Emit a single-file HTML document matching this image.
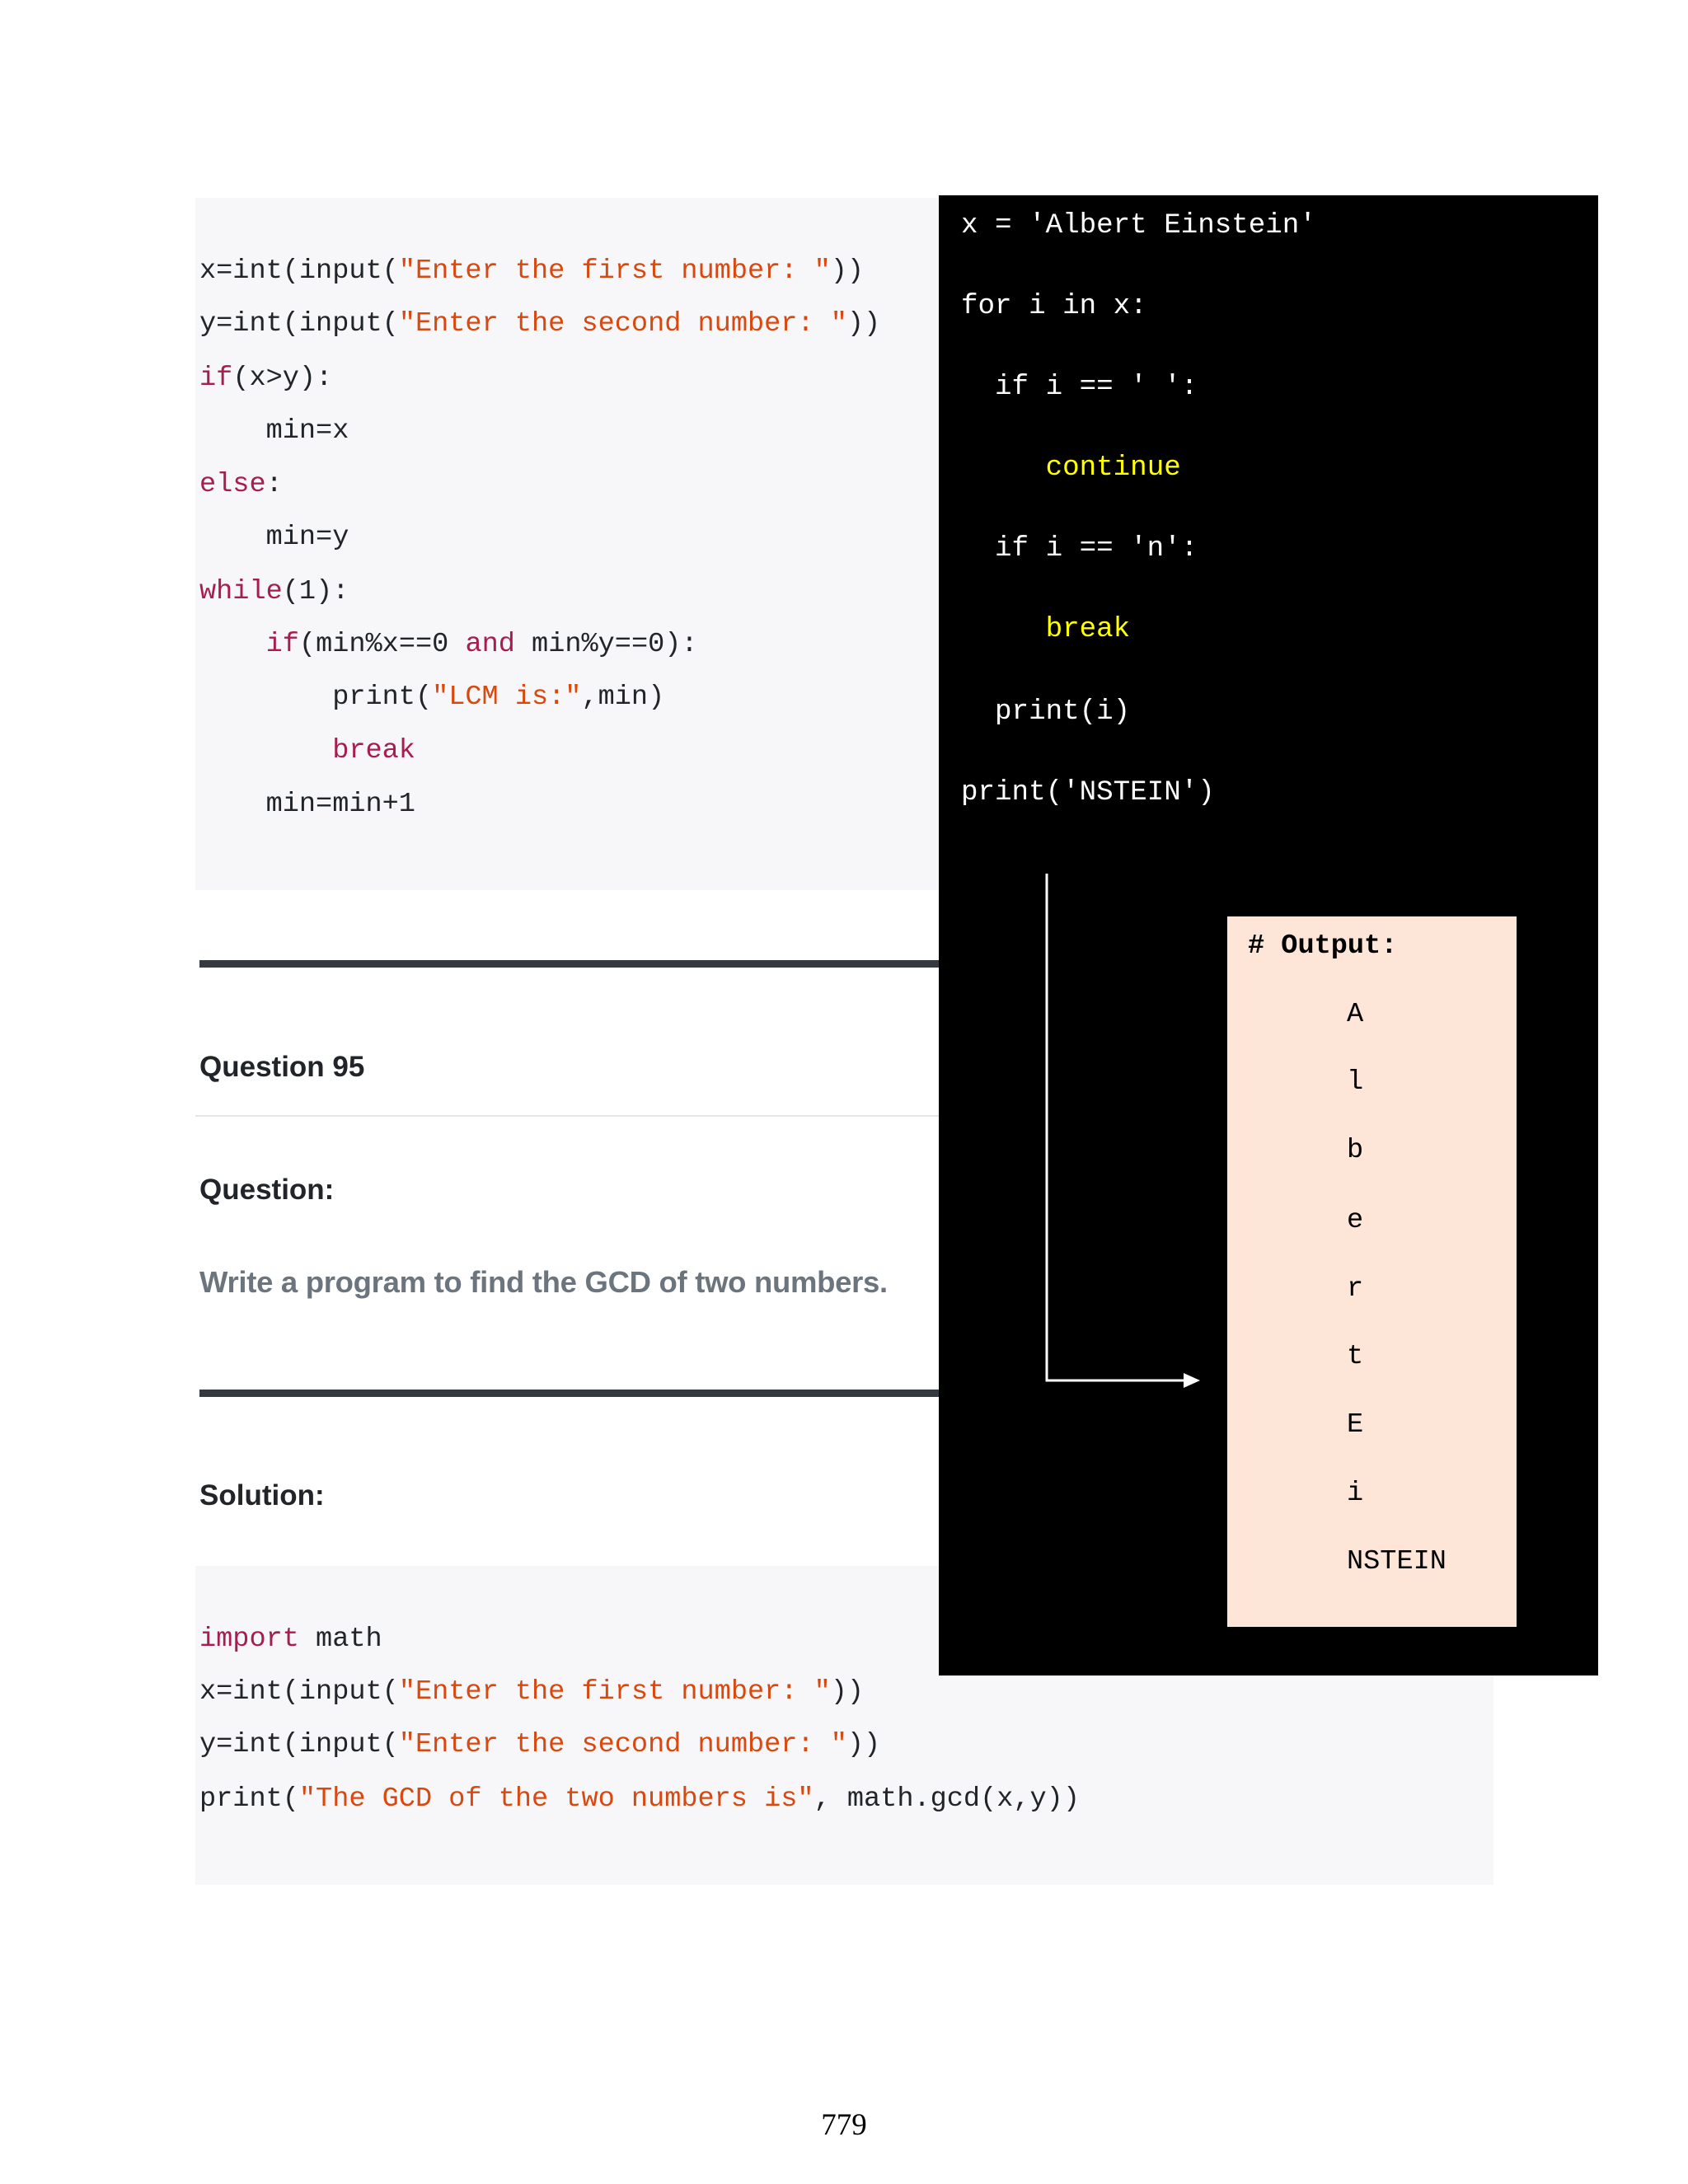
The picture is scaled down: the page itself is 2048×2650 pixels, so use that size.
<!DOCTYPE html>
<html><head><meta charset="utf-8"><style>
body{margin:0;width:2048px;height:2650px;background:#fff;position:relative;overflow:hidden}
.a{position:absolute;white-space:pre;line-height:50px;height:50px}
.m{font-family:"Liberation Mono",monospace;font-size:33.6px;color:#212529}
.w{font-family:"Liberation Mono",monospace;font-size:34.2px;color:#fff}
.s{color:#d9480f}.k{color:#a61e4d}.y{color:#ffff00}
.h{font-family:"Liberation Sans",sans-serif;font-weight:bold;font-size:35px;color:#212529}
</style></head><body>
<div style="position:absolute;left:237px;top:240px;width:903px;height:840px;background:#f7f7f9"></div>
<div style="position:absolute;left:237px;top:1900px;width:1575px;height:387px;background:#f7f7f9"></div>
<div style="position:absolute;left:242px;top:1165px;width:897px;height:9px;background:#343a40"></div>
<div style="position:absolute;left:237px;top:1353px;width:902px;height:2px;background:#e6e6e6"></div>
<div style="position:absolute;left:242px;top:1686px;width:897px;height:9px;background:#343a40"></div>

<div class="a m" style="left:242px;top:304px">x=int(input(<span class="s">"Enter the first number: "</span>))</div>
<div class="a m" style="left:242px;top:368px">y=int(input(<span class="s">"Enter the second number: "</span>))</div>
<div class="a m" style="left:242px;top:434px"><span class="k">if</span>(x&gt;y):</div>
<div class="a m" style="left:242px;top:498px">    min=x</div>
<div class="a m" style="left:242px;top:563px"><span class="k">else</span>:</div>
<div class="a m" style="left:242px;top:627px">    min=y</div>
<div class="a m" style="left:242px;top:693px"><span class="k">while</span>(1):</div>
<div class="a m" style="left:242px;top:757px">    <span class="k">if</span>(min%x==0 <span class="k">and</span> min%y==0):</div>
<div class="a m" style="left:242px;top:821px">        print(<span class="s">"LCM is:"</span>,min)</div>
<div class="a m" style="left:242px;top:886px">        <span class="k">break</span></div>
<div class="a m" style="left:242px;top:951px">    min=min+1</div>

<div class="a h" style="left:242px;top:1270px">Question 95</div>
<div class="a h" style="left:242px;top:1419px">Question:</div>
<div class="a h" style="left:242px;top:1531px;color:#6c757d;font-size:36.5px;letter-spacing:-0.3px">Write a program to find the GCD of two numbers.</div>
<div class="a h" style="left:242px;top:1790px">Solution:</div>

<div class="a m" style="left:242px;top:1964px"><span class="k">import</span> math</div>
<div class="a m" style="left:242px;top:2028px">x=int(input(<span class="s">"Enter the first number: "</span>))</div>
<div class="a m" style="left:242px;top:2092px">y=int(input(<span class="s">"Enter the second number: "</span>))</div>
<div class="a m" style="left:242px;top:2158px">print(<span class="s">"The GCD of the two numbers is"</span>, math.gcd(x,y))</div>

<div style="position:absolute;left:1139px;top:237px;width:800px;height:1796px;background:#000"></div>
<div class="a w" style="left:1166px;top:249px">x = 'Albert Einstein'</div>
<div class="a w" style="left:1166px;top:347px">for i in x:</div>
<div class="a w" style="left:1166px;top:445px">  if i == ' ':</div>
<div class="a w" style="left:1166px;top:543px">     <span class="y">continue</span></div>
<div class="a w" style="left:1166px;top:641px">  if i == 'n':</div>
<div class="a w" style="left:1166px;top:739px">     <span class="y">break</span></div>
<div class="a w" style="left:1166px;top:839px">  print(i)</div>
<div class="a w" style="left:1166px;top:937px">print('NSTEIN')</div>

<svg style="position:absolute;left:0;top:0" width="2048" height="2650">
<path d="M1270 1060 V1675 H1440" stroke="#fff" stroke-width="3" fill="none"/>
<polygon points="1436,1666 1456,1675 1436,1684" fill="#fff"/>
</svg>
<div style="position:absolute;left:1489px;top:1112px;width:351px;height:862px;background:#fde6d8"></div>
<div class="a m" style="left:1514px;top:1123px;font-weight:bold;color:#000">#&nbsp;Output:</div>
<div class="a m" style="left:1634px;top:1206px;color:#000">A</div>
<div class="a m" style="left:1634px;top:1288px;color:#000">l</div>
<div class="a m" style="left:1634px;top:1371px;color:#000">b</div>
<div class="a m" style="left:1634px;top:1456px;color:#000">e</div>
<div class="a m" style="left:1634px;top:1539px;color:#000">r</div>
<div class="a m" style="left:1634px;top:1621px;color:#000">t</div>
<div class="a m" style="left:1634px;top:1704px;color:#000">E</div>
<div class="a m" style="left:1634px;top:1787px;color:#000">i</div>
<div class="a m" style="left:1634px;top:1870px;color:#000">NSTEIN</div>

<div class="a" style="left:984px;top:2554px;width:80px;text-align:center;font-family:'Liberation Serif',serif;font-size:37px;color:#000">779</div>
</body></html>
